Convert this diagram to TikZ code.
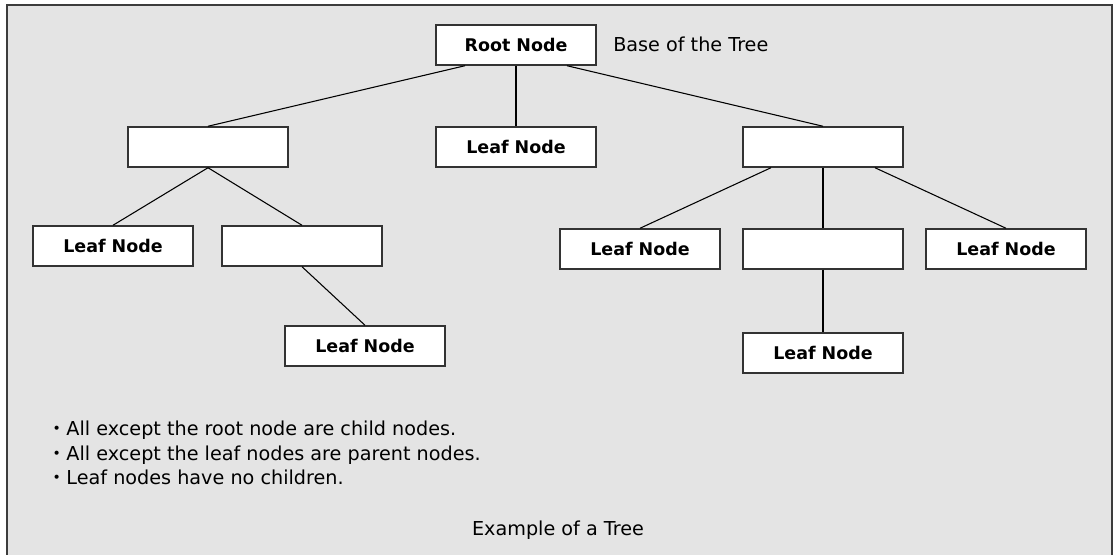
\documentclass[tikz,border=0pt]{standalone}
\usepackage{fontspec}
\setmainfont{DejaVu Sans}
\newfontfamily\cjk{Noto Sans CJK JP}
\usetikzlibrary{calc}
\definecolor{bggray}{HTML}{E4E4E4}
\definecolor{framegray}{HTML}{3C3C3C}
\definecolor{boxgray}{HTML}{333333}
\begin{document}
\begin{tikzpicture}[x=0.75pt,y=-0.75pt,
  treebox/.style={draw=boxgray, line width=1.1pt, fill=white, minimum width=120pt, minimum height=30pt, inner sep=0pt, font=\fontsize{13.1pt}{15pt}\selectfont\bfseries},
  link/.style={draw=black, line width=0.8pt},
  plain/.style={inner sep=0pt, font=\fontsize{14.4pt}{17pt}\selectfont}
]
\useasboundingbox (0,0) rectangle (1118,555);
\fill[bggray] (7,5) rectangle (1112,555);
\draw[framegray, line width=1.4pt] (7,555) -- (7,5) -- (1112,5) -- (1112,555);

% nodes
\node[treebox] (root) at (516,45) {Root Node};
\node[treebox] (lbox) at (208,147) {};
\node[treebox] (mleaf) at (516,147) {Leaf Node};
\node[treebox] (rbox) at (823,147) {};
\node[treebox] (llleaf) at (113,246) {Leaf Node};
\node[treebox] (lrbox) at (302,246) {};
\node[treebox] (lrleaf) at (365,346) {Leaf Node};
\node[treebox] (rlleaf) at (640,249) {Leaf Node};
\node[treebox] (rmbox) at (823,249) {};
\node[treebox] (rrleaf) at (1006,249) {Leaf Node};
\node[treebox] (rmleaf) at (823,353) {Leaf Node};

% connectors
\draw[link] ($(root.south)+(-51,0)$) -- (lbox.north);
\draw[link] (root.south) -- (mleaf.north);
\draw[link] ($(root.south)+(51,0)$) -- (rbox.north);
\draw[link] (lbox.south) -- (llleaf.north);
\draw[link] (lbox.south) -- (lrbox.north);
\draw[link] (lrbox.south) -- (lrleaf.north);
\draw[link] ($(rbox.south)+(-52,0)$) -- (rlleaf.north);
\draw[link] (rbox.south) -- (rmbox.north);
\draw[link] ($(rbox.south)+(52,0)$) -- (rrleaf.north);
\draw[link] (rmbox.south) -- (rmleaf.north);

% texts
\node[plain, anchor=base west] (base) at (613,52) {Base of the Tree};
\node[plain, anchor=base west] (b1) at (47,436) {{\cjk ・}All except the root node are child nodes.};
\node[plain, anchor=base west] (b2) at (47,460.5) {{\cjk ・}All except the leaf nodes are parent nodes.};
\node[plain, anchor=base west] (b3) at (47,485) {{\cjk ・}Leaf nodes have no children.};
\node[plain, anchor=base] (cap) at (558,536) {Example of a Tree};
\end{tikzpicture}
\end{document}
